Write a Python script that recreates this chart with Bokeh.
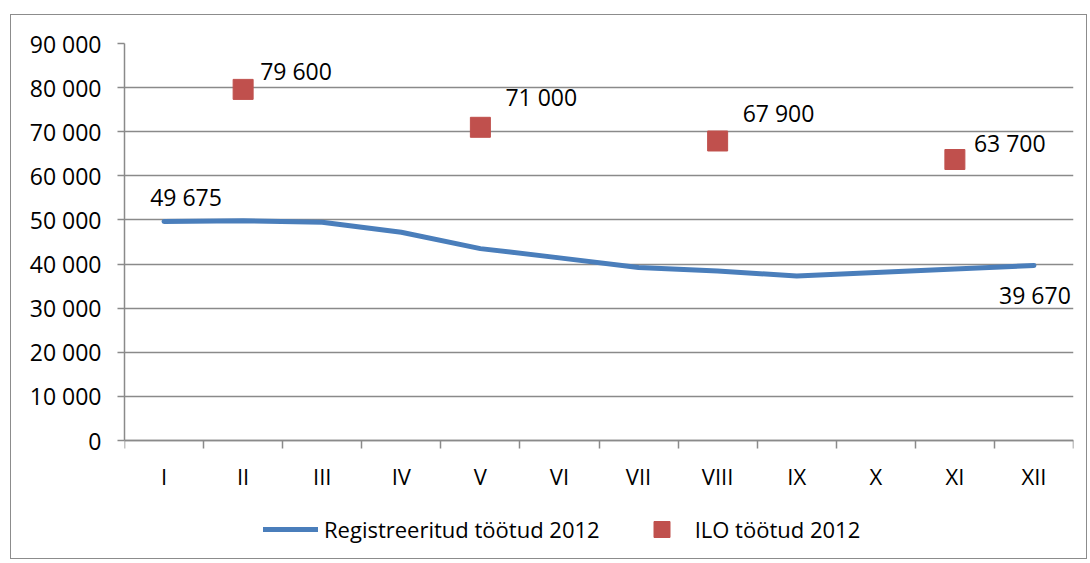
from bokeh.plotting import figure
from bokeh.models import (ColumnDataSource, Range1d, FixedTicker, Legend, LegendItem)
from bokeh.core.properties import value
from bokeh.embed import file_html
from bokeh.resources import INLINE

# ---- data ----
months = ["I", "II", "III", "IV", "V", "VI", "VII", "VIII", "IX", "X", "XI", "XII"]
registered = [49675, 49800, 49500, 47200, 43500, 41400, 39200, 38400, 37300, 38100, 38900, 39670]
ilo_months = ["II", "V", "VIII", "XI"]
ilo_values = [79600, 71000, 67900, 63700]
y_ticks = [0, 10000, 20000, 30000, 40000, 50000, 60000, 70000, 80000, 90000]
reg_name = "Registreeritud töötud 2012"
ilo_name = "ILO töötud 2012"

# ---- styles / layout ----
FONT = "Open Sans"
BLUE = "#4A7EBB"
RED = "#C0504D"
GRID = "#8a8a8a"
ilo_label_dx = [17, 25, 25, 19]
ilo_label_dy = [-18, -30, -28, -17]

PLOT_H = 397          # pixel height of the 0..max value area
EXTRA_BELOW = 115     # pixels of frame below the zero line (axis labels + legend)
Y_MAX = y_ticks[-1]
Y_MIN = -EXTRA_BELOW * Y_MAX / PLOT_H


def fmt(v):
    return f"{v:,}".replace(",", " ")


x_of = {m: i + 0.5 for i, m in enumerate(months)}

p = figure(width=1077, height=545,
           x_range=Range1d(0, len(months)), y_range=Range1d(Y_MIN, Y_MAX),
           output_backend="svg", toolbar_location=None,
           min_border_left=113, min_border_right=15,
           min_border_top=28, min_border_bottom=545 - 28 - PLOT_H - EXTRA_BELOW)
p.margin = (14, 0, 0, 10)
p.styles = {"border": "1px solid #8c8c8c"}
p.outline_line_color = None
p.background_fill_color = "white"
p.border_fill_color = "white"

# grid
p.xgrid.visible = False
p.ygrid.ticker = FixedTicker(ticks=y_ticks)
p.ygrid.grid_line_color = GRID
p.ygrid.grid_line_width = 1.5

# x axis at value 0: labels at category centres, ticks at category boundaries
xa = p.xaxis[0]
xa.fixed_location = 0
xa.ticker = FixedTicker(ticks=[x_of[m] for m in months],
                        minor_ticks=list(range(len(months) + 1)))
xa.major_label_overrides = {x_of[m]: m for m in months}
xa.major_tick_line_color = None
xa.major_tick_out = 0
xa.major_tick_in = 0
xa.minor_tick_out = 8
xa.minor_tick_in = 0
xa.minor_tick_line_color = GRID
xa.minor_tick_line_width = 1.5
xa.axis_line_color = GRID
xa.axis_line_width = 1.5
xa.major_label_text_font = FONT
xa.major_label_text_font_size = "22px"
xa.major_label_text_color = "black"
xa.major_label_standoff = 12

# y axis
ya = p.yaxis[0]
ya.bounds = (0, Y_MAX)
ya.ticker = FixedTicker(ticks=y_ticks)
ya.major_label_overrides = {t: fmt(t) for t in y_ticks}
ya.major_tick_out = 7
ya.major_tick_in = 0
ya.major_tick_line_color = GRID
ya.major_tick_line_width = 1.5
ya.minor_tick_line_color = None
ya.axis_line_color = GRID
ya.axis_line_width = 1.5
ya.major_label_text_font = FONT
ya.major_label_text_font_size = "23px"
ya.major_label_text_color = "black"
ya.major_label_standoff = 16

# registered line
reg_src = ColumnDataSource(dict(x=[x_of[m] for m in months], y=registered))
line_r = p.line("x", "y", source=reg_src, line_color=BLUE, line_width=5,
                line_cap="round", line_join="round")

# labels for first and last registered values
reg_lab = ColumnDataSource(dict(
    x=[x_of[months[0]], x_of[months[-1]]],
    y=[registered[0], registered[-1]],
    t=[fmt(registered[0]), fmt(registered[-1])],
    dx=[22, 1], dy=[-24, 29]))
p.text("x", "y", text="t", source=reg_lab, x_offset="dx", y_offset="dy",
       text_align="center", text_baseline="middle",
       text_font=value(FONT), text_font_size="23px", text_color="black")

# ILO markers
ilo_src = ColumnDataSource(dict(x=[x_of[m] for m in ilo_months], y=ilo_values,
                                t=[fmt(v) for v in ilo_values],
                                dx=ilo_label_dx, dy=ilo_label_dy))
sq_r = p.scatter("x", "y", source=ilo_src, marker="square", size=20,
                 fill_color=RED, line_color=RED, line_width=1)
p.text("x", "y", text="t", source=ilo_src, x_offset="dx", y_offset="dy",
       text_align="left", text_baseline="middle",
       text_font=value(FONT), text_font_size="23px", text_color="black")

# legend under the axis labels
leg = Legend(items=[LegendItem(label=reg_name, renderers=[line_r]),
                    LegendItem(label=ilo_name, renderers=[sq_r])],
             location=(139, 6), orientation="horizontal",
             glyph_width=55, glyph_height=40, label_standoff=6, spacing=34,
             padding=0, margin=0, border_line_color=None,
             background_fill_alpha=0,
             label_text_font=FONT, label_text_font_size="22px",
             label_text_color="black")
p.add_layout(leg, "center")

open("out.html", "w").write(file_html(p, INLINE))
